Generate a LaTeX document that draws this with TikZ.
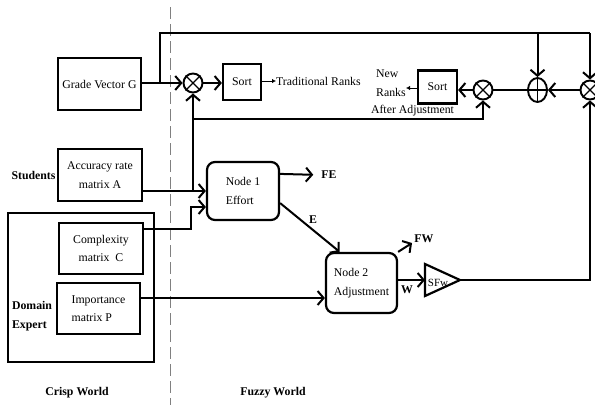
\documentclass[tikz,border=0pt]{standalone}
\usepackage{fontspec}
\setmainfont{Liberation Serif}
\usetikzlibrary{arrows.meta,calc,shapes.geometric}
\begin{document}
\begin{tikzpicture}[x=1pt,y=-1pt,
  every node/.style={font=\fontsize{11.8}{18.5}\selectfont},
  box/.style={draw,line width=2.2pt,inner sep=0pt,align=center},
  rbox/.style={draw,line width=2.2pt,inner sep=0pt,align=left,rounded corners=8pt},
  lbl/.style={font=\fontsize{11.8}{19}\selectfont\bfseries,inner sep=0pt,align=left},
  txt/.style={inner sep=0pt},
  ln/.style={line width=2pt},
  arr/.style={line width=2pt,-{Straight Barb[length=6pt,width=14pt]}},
  smallarr/.style={line width=0.9pt,-{Latex[length=4pt,width=4.5pt]}},
  ox/.style={circle,draw,line width=1.9pt,minimum size=19pt,inner sep=0pt},
  opl/.style={ellipse,draw,line width=1.9pt,minimum width=19pt,minimum height=24pt,inner sep=0pt},
  dashline/.style={gray,line width=1pt,dash pattern=on 12pt off 5pt}
]
\useasboundingbox (0,0) rectangle (595,405);

% divider
\draw[dashline] (170,7) -- (170,405);

% top row
\node[box,minimum width=83pt,minimum height=52pt] (g) at (99.5,84) {Grade Vector G};
\node[ox] (c1) at (193,83) {};
\draw[line width=1.4pt] (c1.north west) -- (c1.south east) (c1.north east) -- (c1.south west);
\node[box,minimum width=38pt,minimum height=36pt] (s1) at (242,82) {Sort};
\node[txt,anchor=west] (tr) at (276,81) {Traditional Ranks};

\node[ox] (c2) at (483,90) {};
\draw[line width=1.4pt] (c2.north west) -- (c2.south east) (c2.north east) -- (c2.south west);
\node[box,minimum width=39pt,minimum height=33pt] (s2) at (437.5,87) {Sort};
\node[txt,anchor=west,align=left] (nr) at (376,83) {New\\Ranks};
\node[txt] (aa) at (412.5,111) {After Adjustment};
\node[opl] (op) at (537.5,90) {};
\draw[line width=1.4pt] (op.north) -- (op.south) (op.west) -- (op.east);
\node[ox] (c4) at (590,90) {};
\draw[line width=1.4pt] (c4.north west) -- (c4.south east) (c4.north east) -- (c4.south west);

% left inputs
\node[lbl] (stu) at (33.5,175) {Students};
\node[box,minimum width=84pt,minimum height=52pt] (acc) at (100,175) {Accuracy rate\\matrix A};
\node[draw,line width=2.2pt,minimum width=146pt,minimum height=149pt,inner sep=0pt] (dom) at (81,287.5) {};
\node[box,minimum width=84pt,minimum height=51pt] (cx) at (101,248.5) {Complexity\\matrix~~C};
\node[box,minimum width=83pt,minimum height=51pt,align=left] (imp) at (98.5,308.5) {Importance\\matrix P};
\node[lbl] (de) at (32,316) {Domain\\Expert};

% fuzzy nodes
\node[rbox,minimum width=72pt,minimum height=58pt] (n1) at (243,191) {Node 1\\Effort};
\node[rbox,minimum width=71pt,minimum height=60pt] (n2) at (361.5,283) {Node 2\\Adjustment};
\node[lbl] (fe) at (329,175) {FE};
\node[lbl] (el) at (313,220) {E};
\node[lbl] (fw) at (424,239) {FW};
\node[lbl] (wl) at (407,290) {W};
\coordinate (sfin) at (425,280);
\coordinate (sftip) at (460,280);
\draw[line width=2.2pt,line join=miter] (425,264) -- (sftip) -- (425,296) -- cycle;
\node[txt,font=\fontsize{11}{12}\selectfont] (sfl) at (438,283) {SFw};

% world labels
\node[lbl] (crisp) at (77,393) {Crisp World};
\node[lbl] (fuzzy) at (273,393) {Fuzzy World};

% connectors, top
\coordinate (t1) at (160,83);
\coordinate (t2) at (160,33);
\draw[arr] (g.east |- c1.west) -- (c1.west);
\draw[ln] (t1) -- (t2) -- (c4.north |- t2);
\draw[arr] (c4.north |- t2) -- (c4.north);
\draw[arr] (op.north |- t2) -- (op.north);
\draw[arr] (c1.east) -- (c1.east -| s1.west);
\draw[smallarr] (s1.east |- tr.west) -- (tr.west);
\coordinate (j1) at (193,191);
\draw[arr] (j1) -- (c1.south);
\coordinate (fb) at (193,119);
\draw[arr] (fb) -| (c2.south);
\draw[arr] (c2.west) -- (c2.west -| s2.east);
\coordinate (nrt) at (406,88);
\draw[smallarr] (s2.west |- nrt) -- (nrt);
\draw[ln] (op.west) -- (c2.east);
\draw[arr] (c4.west) -- (op.east);

% connectors, inputs
\draw[arr] (acc.east |- n1.west) -- (n1.west);
\coordinate (cxa) at (191,229);
\coordinate (cxb) at (191,207);
\draw[arr] (cx.east |- cxa) -- (cxa) -- (cxb) -- (cxb -| n1.west);
\path (n2.west) ++(0,15) coordinate (n2in);
\draw[arr] (imp.east |- n2in) -- (n2in);

% connectors, fuzzy
\path (n1.north east) ++(0,13) coordinate (n1fe);
\draw[arr,shorten >=8pt] (n1fe) -- (fe.west);
\draw[arr] (n1.-18) -- (n2.125);
\coordinate (fwt) at (412,243);
\draw[arr] (n2.north east) -- (fwt);
\draw[arr] (n2.east |- sfin) -- (sfin);
\draw[arr] (sftip) -| (c4.south);
\end{tikzpicture}
\end{document}
